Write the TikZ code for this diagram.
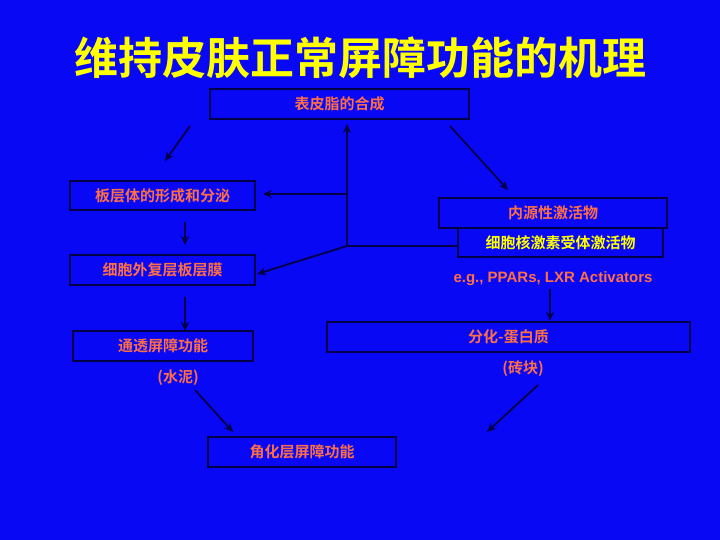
\documentclass[tikz,border=0pt]{standalone}
\usepackage{fontspec}
\setmainfont{Noto Sans CJK SC}[BoldFont={Noto Sans CJK SC Bold}]
\newfontfamily\lat{Liberation Sans}
\usetikzlibrary{arrows.meta}
\definecolor{bg}{RGB}{8,8,245}
\definecolor{ln}{RGB}{0,0,70}
\definecolor{tx}{RGB}{255,110,70}
\definecolor{yl}{RGB}{255,255,0}
\tikzset{
  bx/.style={draw=ln,line width=1.2pt,inner sep=0pt,font=\bfseries\fontsize{15}{18}\selectfont,text=tx},
  lb/.style={inner sep=0pt,font=\bfseries\fontsize{15}{18}\selectfont,text=tx},
  ar/.style={draw=ln,line width=1.8pt,-{Stealth[length=9pt,width=8pt]}},
  pl/.style={draw=ln,line width=1.8pt}
}
\begin{document}
\begin{tikzpicture}[x=1pt,y=-1pt]
\fill[bg] (0,0) rectangle (720,540);
\useasboundingbox (0,0) rectangle (720,540);
\node[inner sep=0pt,text=yl,font=\bfseries\fontsize{44}{50}\selectfont] (title) at (360,58) {维持皮肤正常屏障功能的机理};
\node[bx,minimum width=259pt,minimum height=30pt] (a) at (339.5,104) {表皮脂的合成};
\node[bx,minimum width=185pt,minimum height=29pt] (b) at (162.5,195.5) {板层体的形成和分泌};
\node[bx,minimum width=228pt,minimum height=30pt] (c) at (553,213) {内源性激活物};
\node[bx,minimum width=205pt,minimum height=29pt,text=yl] (d) at (560.5,242.5) {细胞核激素受体激活物};
\node[bx,minimum width=185pt,minimum height=30pt] (e) at (162.5,270) {细胞外复层板层膜};
\node[lb,font=\lat\bfseries\fontsize{15}{18}\selectfont] (eg) at (553,279) {e.g., PPARs, LXR Activators};
\node[bx,minimum width=180pt,minimum height=30pt] (f) at (163,346) {通透屏障功能};
\node[lb] (f2) at (178,378) {(水泥)};
\node[bx,minimum width=363pt,minimum height=30pt] (g) at (508.5,337) {分化-蛋白质};
\node[lb] (g2) at (523,369) {(砖块)};
\node[bx,minimum width=188pt,minimum height=30pt] (h) at (302,452) {角化层屏障功能};
\coordinate (j) at (347,246);
\coordinate (j2) at (347,194);
\coordinate (a1) at (190,126); \coordinate (b1) at (165,161);
\coordinate (a2) at (450,126); \coordinate (c1) at (508,190);
\coordinate (a3) at (347,124); \coordinate (b2) at (263,194);
\coordinate (e1) at (257,274);
\coordinate (b3) at (185,222); \coordinate (e2) at (185,245);
\coordinate (e3) at (185,297); \coordinate (f1) at (185,331);
\coordinate (eg1) at (550,289); \coordinate (g1) at (550,321);
\coordinate (f3) at (195,390); \coordinate (h1) at (233,432);
\coordinate (g3) at (538,385); \coordinate (h2) at (487,432);
\draw[ar] (a1) -- (b1);
\draw[ar] (a2) -- (c1);
\draw[ar] (j) -- (a3);
\draw[ar] (j2) -- (b2);
\draw[pl] (j) -- (d.west |- j);
\draw[ar] (j) -- (e1);
\draw[ar] (b3) -- (e2);
\draw[ar] (e3) -- (f1);
\draw[ar] (eg1) -- (g1);
\draw[ar] (f3) -- (h1);
\draw[ar] (g3) -- (h2);
\end{tikzpicture}
\end{document}
